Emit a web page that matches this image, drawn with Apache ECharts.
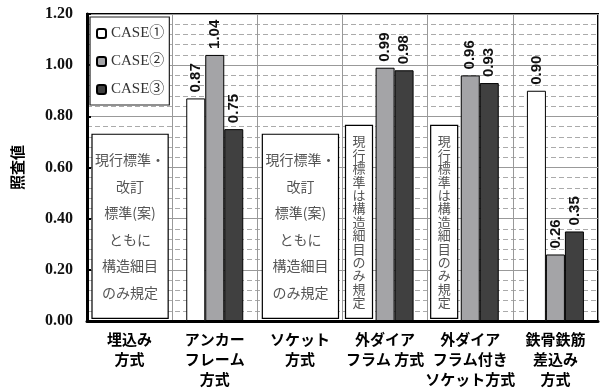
<!DOCTYPE html>
<html><head><meta charset="utf-8">
<script src="https://cdn.jsdelivr.net/npm/echarts@6/dist/echarts.min.js"></script>
<style>html,body{margin:0;padding:0;background:#fff}#c{width:601px;height:389px}</style>
</head><body><div id="c"></div>
<script>
const categories = ['埋込み\n方式', 'アンカー\nフレーム\n方式', 'ソケット\n方式', '外ダイア\nフラム 方式', '外ダイア\nフラム付き\nソケット方式', '鉄骨鉄筋\n差込み\n方式'];
const seriesNames = ['CASE①', 'CASE②', 'CASE③'];
const case1 = [null, 0.87, null, null, null, 0.90];
const case2 = [null, 1.04, null, 0.99, 0.96, 0.26];
const case3 = [null, 0.75, null, 0.98, 0.93, 0.35];
const yTicks = [0, 0.2, 0.4, 0.6, 0.8, 1.0, 1.2];
// annotation boxes: category index, top value
const noteCat = [0, 2, 3, 4];
const noteTop = [0.73, 0.73, 0.765, 0.765];
const noteVertical = [false, false, true, true];
const noteText = ['現行標準・\n改訂\n標準(案)\nともに\n構造細目\nのみ規定', '現行標準・\n改訂\n標準(案)\nともに\n構造細目\nのみ規定', '現行標準は構造細目のみ規定', '現行標準は構造細目のみ規定'];

const colors = ['#ffffff', '#a4a4a7', '#404040'];
const chart = echarts.init(document.getElementById('c'), null, {renderer: 'canvas'});
const sans = '"Noto Sans CJK JP", "Liberation Sans", sans-serif';
const serif = '"Liberation Serif", "DejaVu Serif", "Noto Sans CJK JP", serif';

function barSeries(name, data, color) {
  return {
    name: name, type: 'bar', data: data, barWidth: 19, barGap: '0%',
    itemStyle: {color: color, borderColor: '#000', borderWidth: 1},
    label: {show: true, position: 'top', rotate: 90, align: 'left', verticalAlign: 'middle', distance: 6,
      formatter: p => p.value == null ? '' : p.value.toFixed(2),
      fontFamily: '"Liberation Sans", Arial, sans-serif', fontWeight: 'bold', fontSize: 15, color: '#111'},
    z: 3
  };
}

const noteData = noteCat.map((c, i) => [c, noteTop[i], i]);

chart.setOption({
  animation: false,
  grid: {left: 87, right: 3, top: 14, bottom: 64, show: true, borderColor: '#000', borderWidth: 2, backgroundColor: 'transparent'},
  legend: {
    data: seriesNames, orient: 'vertical', left: 90, top: 17, padding: [9, 5, 8, 6], itemGap: 13,
    itemWidth: 9, itemHeight: 9, borderColor: '#222', borderWidth: 1.2, backgroundColor: '#fff',
    textStyle: {fontFamily: serif, fontSize: 15, color: '#333'}
  },
  xAxis: {
    type: 'category', data: categories,
    axisLine: {lineStyle: {color: '#000', width: 3}},
    axisTick: {show: false},
    splitLine: {show: true, lineStyle: {color: '#999', width: 1}},
    axisLabel: {interval: 0, margin: 8, lineHeight: 20, fontFamily: sans, fontWeight: 'bold', fontSize: 15, color: '#000'}
  },
  yAxis: {
    type: 'value', min: yTicks[0], max: yTicks[yTicks.length - 1], interval: 0.2,
    name: '照査値', nameLocation: 'middle', nameRotate: 90, nameGap: 62,
    nameTextStyle: {fontFamily: sans, fontWeight: 'bold', fontSize: 15, color: '#000'},
    axisLine: {show: true, lineStyle: {color: '#000', width: 3}},
    axisTick: {show: true, inside: true, length: 4, lineStyle: {color: '#000', width: 2}},
    axisLabel: {formatter: v => v.toFixed(2), margin: 14, fontFamily: serif, fontWeight: 'bold', fontSize: 16, color: '#111'},
    splitLine: {show: true, lineStyle: {color: '#999', width: 1}},
    minorTick: {show: true, splitNumber: 5, length: 0, lineStyle: {color: 'rgba(0,0,0,0)'}},
    minorSplitLine: {show: true, lineStyle: {color: '#aaa', width: 1, type: [5, 3]}}
  },
  series: [
    barSeries(seriesNames[0], case1, colors[0]),
    barSeries(seriesNames[1], case2, colors[1]),
    barSeries(seriesNames[2], case3, colors[2]),
    {
      name: 'notes', type: 'custom', data: noteData, z: 10,
      encode: {x: 0, y: 1},
      renderItem: function (params, api) {
        const idx = api.value(2);
        const top = api.coord([api.value(0), api.value(1)]);
        const bot = api.coord([api.value(0), 0.01]);
        const band = api.size([1, 0])[0];
        const left0 = top[0] - band / 2;
        let x, w;
        if (noteVertical[idx]) { x = left0 + 3; w = 27; }
        else { x = left0 + 5; w = band - 9; }
        const h = bot[1] - top[1];
        const txt = noteVertical[idx] ? noteText[idx].split('').join('\n') : noteText[idx];
        return {
          type: 'group', children: [
            {type: 'rect', shape: {x: x, y: top[1], width: w, height: h}, style: {fill: '#fff', stroke: '#000', lineWidth: 1.2}},
            {type: 'text', x: x + w / 2, y: top[1] + h / 2,
              style: {text: txt, align: 'center', verticalAlign: 'middle',
                font: (noteVertical[idx] ? '13px ' : '14px ') + sans,
                lineHeight: noteVertical[idx] ? 13.4 : 26.5, fill: '#555'}}
          ]
        };
      }
    }
  ]
});
</script></body></html>
